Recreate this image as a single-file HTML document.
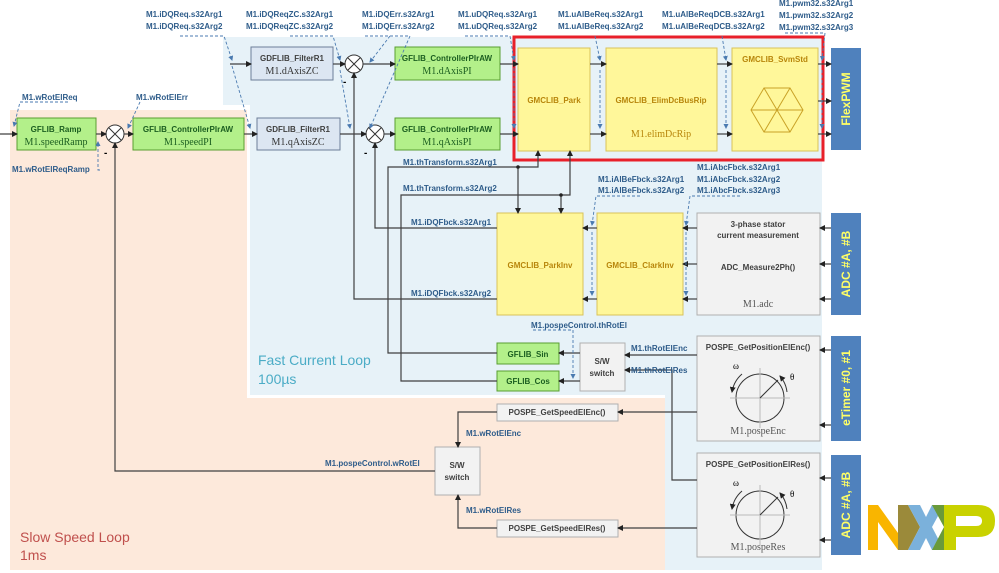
<!DOCTYPE html>
<html><head><meta charset="utf-8"><style>
body{margin:0;background:#fff}
svg{display:block;font-family:"Liberation Sans",sans-serif}
.l{font-size:8px;font-weight:bold;fill:#2e5c8a}
.b{font-size:8px;font-weight:bold;fill:#1b5e20;text-anchor:middle}
.s{font-family:"Liberation Serif",serif;font-size:10px;text-anchor:middle}
.y{font-size:8px;font-weight:bold;fill:#b8860b;text-anchor:middle}
.g{font-size:8px;font-weight:bold;fill:#404040;text-anchor:middle}
.ln{stroke:#404040;stroke-width:1.2;fill:none}
.d{stroke:#4a7ab0;stroke-width:0.9;fill:none;stroke-dasharray:3,2}
.gr{fill:#b3f08a;stroke:#5a9e32;stroke-width:1}
.bl{fill:#dce6f2;stroke:#6d7f99;stroke-width:1}
.ye{fill:#fff79a;stroke:#d9c35a;stroke-width:1}
.gy{fill:#f2f2f2;stroke:#b0b0b0;stroke-width:1}
.pw{fill:#4f81bd}
.pt{font-size:12px;font-weight:bold;fill:#ffff66;text-anchor:middle}
</style></head><body>
<svg width="999" height="573" viewBox="0 0 999 573">
<defs><marker id="a" markerWidth="6" markerHeight="6" refX="5" refY="3" orient="auto" markerUnits="userSpaceOnUse"><path d="M0,0L6,3L0,6z" fill="#222"/></marker>
<marker id="ad" markerWidth="5" markerHeight="5" refX="4" refY="2.5" orient="auto" markerUnits="userSpaceOnUse"><path d="M0,0L5,2.5L0,5z" fill="#4a7ab0"/></marker></defs>
<rect x="10" y="110" width="237" height="460" fill="#fde9db"/>
<rect x="247" y="398" width="418" height="172" fill="#fde9db"/>
<path d="M223,37H822V570H665V395H250V105H223Z" fill="#e7f2f8"/>
<text x="258" y="365" font-size="14" fill="#4bacc6">Fast Current Loop</text>
<text x="258" y="384" font-size="14" fill="#4bacc6">100µs</text>
<text x="20" y="542" font-size="14" fill="#c0504d">Slow Speed Loop</text>
<text x="20" y="560" font-size="14" fill="#c0504d">1ms</text>
<rect x="514" y="37" width="309" height="123" fill="none" stroke="#e8202a" stroke-width="3"/>
<rect class="gr" x="17" y="118" width="79" height="32"/><text class="b" x="56" y="132">GFLIB_Ramp</text><text class="s" x="56" y="145" fill="#1b5e20">M1.speedRamp</text>
<rect class="gr" x="133" y="118" width="111" height="32"/><text class="b" x="188" y="132">GFLIB_ControllerPIrAW</text><text class="s" x="188" y="145" fill="#1b5e20">M1.speedPI</text>
<rect class="bl" x="257" y="118" width="83" height="32"/><text class="g" x="298" y="132" fill="#333">GDFLIB_FilterR1</text><text class="s" x="298" y="145" fill="#333">M1.qAxisZC</text>
<rect class="bl" x="251" y="47" width="82" height="33"/><text class="g" x="292" y="61">GDFLIB_FilterR1</text><text class="s" x="292" y="74" fill="#333">M1.dAxisZC</text>
<rect class="gr" x="395" y="47" width="105" height="33"/><text class="b" x="447" y="61">GFLIB_ControllerPIrAW</text><text class="s" x="447" y="74" fill="#1b5e20">M1.dAxisPI</text>
<rect class="gr" x="395" y="118" width="105" height="32"/><text class="b" x="447" y="132">GFLIB_ControllerPIrAW</text><text class="s" x="447" y="145" fill="#1b5e20">M1.qAxisPI</text>
<rect class="ye" x="518" y="48" width="72" height="103"/><text class="y" x="554" y="103">GMCLIB_Park</text>
<rect class="ye" x="606" y="48" width="111" height="103"/><text class="y" x="661" y="103">GMCLIB_ElimDcBusRip</text><text class="s" x="661" y="137" fill="#b8860b">M1.elimDcRip</text>
<rect class="ye" x="732" y="48" width="86" height="103"/><text class="y" x="775" y="62">GMCLIB_SvmStd</text>
<g stroke="#c9a227" stroke-width="1" fill="none"><path d="M751,110L764,88H790L803,110L790,132H764Z"/><path d="M751,110H803M764,88L790,132M790,88L764,132"/></g>
<rect class="pw" x="831" y="48" width="30" height="102"/><text class="pt" transform="translate(850,99) rotate(-90)">FlexPWM</text>
<rect class="ye" x="497" y="213" width="86" height="102"/><text class="y" x="540" y="268">GMCLIB_ParkInv</text>
<rect class="ye" x="597" y="213" width="86" height="102"/><text class="y" x="640" y="268">GMCLIB_ClarkInv</text>
<rect class="gy" x="697" y="213" width="123" height="102"/><text class="g" x="758" y="227">3-phase stator</text><text class="g" x="758" y="238">current measurement</text><text class="g" x="758" y="270">ADC_Measure2Ph()</text><text class="s" x="758" y="307" fill="#555">M1.adc</text>
<rect class="pw" x="831" y="213" width="30" height="102"/><text class="pt" transform="translate(850,264) rotate(-90)">ADC  #A,  #B</text>
<rect class="gr" x="497" y="343" width="62" height="21"/><text class="b" x="528" y="357">GFLIB_Sin</text>
<rect class="gr" x="497" y="371" width="62" height="20"/><text class="b" x="528" y="384">GFLIB_Cos</text>
<rect class="gy" x="580" y="343" width="45" height="48"/><text class="g" x="602" y="364">S/W</text><text class="g" x="602" y="376">switch</text>
<rect class="gy" x="697" y="336" width="123" height="105"/><text class="g" x="758" y="350">POSPE_GetPositionElEnc()</text><text class="s" x="758" y="434" fill="#555">M1.pospeEnc</text>
<rect class="gy" x="697" y="453" width="123" height="104"/><text class="g" x="758" y="467">POSPE_GetPositionElRes()</text><text class="s" x="758" y="550" fill="#555">M1.pospeRes</text>
<g stroke="#333" stroke-width="1" fill="none">
<circle cx="760" cy="398" r="24"/><path d="M730,398H790M760,368V428" stroke="#bbb"/><path d="M760,398L778,380"/><path d="M742,374A30,30 0 0 0 732,392" marker-end="url(#a)"/><path d="M787,392A30,30 0 0 0 780,376" marker-end="url(#a)"/>
<circle cx="760" cy="515" r="24"/><path d="M730,515H790M760,485V545" stroke="#bbb"/><path d="M760,515L778,497"/><path d="M742,491A30,30 0 0 0 732,509" marker-end="url(#a)"/><path d="M787,509A30,30 0 0 0 780,493" marker-end="url(#a)"/>
</g>
<text x="733" y="369" font-size="9" font-family="Liberation Serif">ω</text><text x="790" y="380" font-size="9" font-family="Liberation Serif">θ</text>
<text x="733" y="486" font-size="9" font-family="Liberation Serif">ω</text><text x="790" y="497" font-size="9" font-family="Liberation Serif">θ</text>
<rect class="pw" x="831" y="336" width="30" height="105"/><text class="pt" transform="translate(850,388) rotate(-90)">eTimer #0, #1</text>
<rect class="pw" x="831" y="455" width="30" height="100"/><text class="pt" transform="translate(850,505) rotate(-90)">ADC  #A,  #B</text>
<rect class="gy" x="497" y="404" width="121" height="17"/><text class="g" x="557" y="415">POSPE_GetSpeedElEnc()</text>
<rect class="gy" x="497" y="520" width="121" height="17"/><text class="g" x="557" y="531">POSPE_GetSpeedElRes()</text>
<rect class="gy" x="435" y="447" width="45" height="48"/><text class="g" x="457" y="468">S/W</text><text class="g" x="457" y="480">switch</text>
<g stroke="#333" fill="#fff" stroke-width="1"><circle cx="115" cy="134" r="9"/><circle cx="354" cy="64" r="9"/><circle cx="375" cy="134" r="9"/></g>
<g stroke="#333" stroke-width="1"><path d="M109,128l12,12M121,128l-12,12M348,58l12,12M360,58l-12,12M369,128l12,12M381,128l-12,12"/></g>
<text x="104" y="156" font-size="10" font-weight="bold">-</text><text x="343" y="85" font-size="10" font-weight="bold">-</text><text x="364" y="156" font-size="10" font-weight="bold">-</text>
<g class="ln" marker-end="url(#a)">
<path d="M0,134H17"/><path d="M96,134H106"/><path d="M124,134H133"/><path d="M244,134H257"/><path d="M340,134H366"/><path d="M384,134H395"/><path d="M500,134H518"/>
<path d="M230,64H251"/><path d="M333,64H345"/><path d="M363,64H395"/><path d="M500,64H518"/>
<path d="M590,64H606"/><path d="M590,134H606"/><path d="M717,64H732"/><path d="M717,134H732"/>
<path d="M818,64H831"/><path d="M818,101H831"/><path d="M818,134H831"/>
<path d="M435,471H115V143"/><path d="M497,299H354V73"/><path d="M497,228H375V143"/>
<path d="M497,353H388V167H538V151"/><path d="M518,167V213"/>
<path d="M497,381H401V195H570V151"/><path d="M561,195V213"/>
<path d="M597,228H583"/><path d="M597,299H583"/>
<path d="M697,228H683"/><path d="M697,264H683"/><path d="M697,299H683"/>
<path d="M831,228H820"/><path d="M831,264H820"/><path d="M831,299H820"/>
<path d="M580,353H559"/><path d="M580,381H559"/>
<path d="M697,355H625"/><path d="M697,480H672V370H625"/>
<path d="M831,350H820"/><path d="M831,425H820"/><path d="M831,478H820"/><path d="M831,540H820"/>
<path d="M697,412H618"/><path d="M497,412H458V447"/><path d="M697,528H618"/><path d="M497,528H458V495"/>
</g>
<g fill="#222"><circle cx="518" cy="167" r="1.8"/><circle cx="561" cy="195" r="1.8"/></g>
<g class="d" marker-end="url(#ad)">
<path d="M68,102H20L14,126"/><path d="M100,170H98V142"/><path d="M140,102L128,128"/>
<path d="M180,36H224L232,60"/><path d="M232,66L250,128"/><path d="M290,36H333L340,60"/><path d="M340,70L350,128"/><path d="M365,36H410L370,128"/><path d="M390,36L370,62"/>
<path d="M465,36H510L514,60"/><path d="M514,68V128"/><path d="M595,36L600,60"/><path d="M600,70V128"/><path d="M722,36L726,60"/><path d="M726,70V128"/><path d="M785,33H825L822,60"/><path d="M822,70V128"/>
<path d="M640,196H596L592,225"/><path d="M592,232V295"/><path d="M740,196H690L686,225"/><path d="M686,232V295"/>
<path d="M533,330H573V378"/>
</g>
<g class="l">
<text x="22" y="100">M1.wRotElReq</text><text x="12" y="172">M1.wRotElReqRamp</text><text x="136" y="100">M1.wRotElErr</text>
<text x="146" y="17">M1.iDQReq.s32Arg1</text><text x="146" y="29">M1.iDQReq.s32Arg2</text>
<text x="246" y="17">M1.iDQReqZC.s32Arg1</text><text x="246" y="29">M1.iDQReqZC.s32Arg2</text>
<text x="362" y="17">M1.iDQErr.s32Arg1</text><text x="362" y="29">M1.iDQErr.s32Arg2</text>
<text x="458" y="17">M1.uDQReq.s32Arg1</text><text x="458" y="29">M1.uDQReq.s32Arg2</text>
<text x="558" y="17">M1.uAlBeReq.s32Arg1</text><text x="558" y="29">M1.uAlBeReq.s32Arg2</text>
<text x="662" y="17">M1.uAlBeReqDCB.s32Arg1</text><text x="662" y="29">M1.uAlBeReqDCB.s32Arg2</text>
<text x="779" y="6">M1.pwm32.s32Arg1</text><text x="779" y="18">M1.pwm32.s32Arg2</text><text x="779" y="30">M1.pwm32.s32Arg3</text>
<text x="403" y="165">M1.thTransform.s32Arg1</text><text x="403" y="191">M1.thTransform.s32Arg2</text>
<text x="411" y="225">M1.iDQFbck.s32Arg1</text><text x="411" y="296">M1.iDQFbck.s32Arg2</text>
<text x="598" y="182">M1.iAlBeFbck.s32Arg1</text><text x="598" y="193">M1.iAlBeFbck.s32Arg2</text>
<text x="697" y="170">M1.iAbcFbck.s32Arg1</text><text x="697" y="182">M1.iAbcFbck.s32Arg2</text><text x="697" y="193">M1.iAbcFbck.s32Arg3</text>
<text x="531" y="328">M1.pospeControl.thRotEl</text>
<text x="631" y="351">M1.thRotElEnc</text><text x="631" y="373">M1.thRotElRes</text>
<text x="466" y="436">M1.wRotElEnc</text><text x="466" y="513">M1.wRotElRes</text>
<text x="325" y="466">M1.pospeControl.wRotEl</text>
</g>
<g transform="translate(868,505)">
<path d="M0,0H10L30,28V0H40V45H30L10,17V45H0Z" fill="#f9b500"/>
<path d="M30,0H40L52,22L40,45H30Z" fill="#9b8a3a"/>
<path d="M40,0H52L58,12L64,0H76L64,22L76,45H64L58,33L52,45H40L52,22Z" fill="#7bb1db"/>
<path d="M64,0H76V45H64L76,22Z" fill="#6a9a3a"/>
<path d="M76,0H110Q127,0 127,16Q127,32 110,32H88V45H76ZM88,11V21H108Q114,21 114,16Q114,11 108,11Z" fill="#c9d200"/>
</g>
</svg>
</body></html>
